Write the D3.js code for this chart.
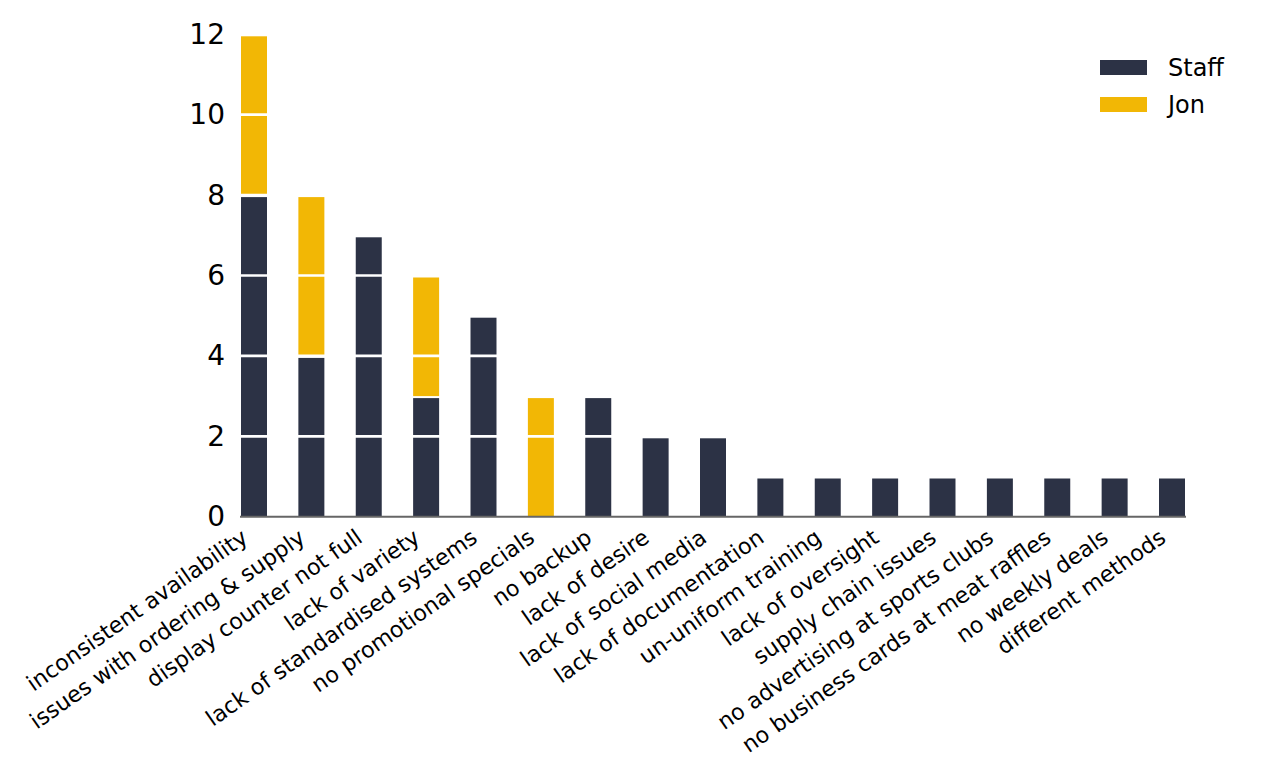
<!DOCTYPE html>
<html lang="en">
  <head>
    <meta charset="utf-8">
    <title>Stacked Bar Chart</title>
    <script type="text/javascript" src="https://d3js.org/d3.v7.min.js"></script>
  </head>
  <style>
    body {
      margin: 0;
      background: white;
    }
    text {
      font-family: "DejaVu Sans", sans-serif;
    }
  </style>
  <body>
    <svg class="chart"></svg>
  </body>

  <script>
    //Data
    const categories = ["inconsistent availability", "issues with ordering & supply", "display counter not full",
                        "lack of variety", "lack of standardised systems", "no promotional specials", "no backup",
                        "lack of desire", "lack of social media", "lack of documentation", "un-uniform training",
                        "lack of oversight", "supply chain issues", "no advertising at sports clubs",
                        "no business cards at meat raffles", "no weekly deals", "different methods"];
    const staffValues = [8, 4, 7, 3, 5, 0, 3, 2, 2, 1, 1, 1, 1, 1, 1, 1, 1];
    const jonValues   = [4, 4, 0, 3, 0, 3, 0, 0, 0, 0, 0, 0, 0, 0, 0, 0, 0];
    const seriesNames = ["Staff", "Jon"];
    const yTicks = [0, 2, 4, 6, 8, 10, 12];

    //Constants
    const width = 1269;
    const height = 780;
    const colors = ["#2c3245", "#f2b705"];
    const topInset = 2;

    const rows = categories.map((c, i) => ({category: c, Staff: staffValues[i], Jon: jonValues[i]}));
    const stacked = d3.stack().keys(seriesNames)(rows);

    const svg = d3.select(".chart")
      .attr("width", width)
      .attr("height", height);

    const x = d3.scaleBand()
      .domain(categories)
      .range([241, 1185])
      .paddingInner(0.547)
      .paddingOuter(0);

    const y = d3.scaleLinear()
      .domain([0, 12])
      .range([516.7, 34.3]);

    //y axis labels only
    const yAxis = d3.axisLeft(y)
      .tickValues(yTicks)
      .tickSize(0)
      .tickPadding(0);
    const yg = svg.append("g")
      .attr("transform", "translate(225, 0)")
      .call(yAxis);
    yg.select(".domain").remove();
    yg.selectAll("text")
      .attr("font-size", "28px")
      .attr("font-family", "DejaVu Sans")
      .attr("fill", "#000");

    //bars
    svg.append("g")
      .selectAll("g")
      .data(stacked)
      .join("g")
        .attr("fill", (d, i) => colors[i])
      .selectAll("rect")
      .data(d => d.filter(s => s[1] > s[0]))
      .join("rect")
        .attr("x", d => x(d.data.category))
        .attr("width", x.bandwidth())
        .attr("y", d => y(d[1]) + topInset)
        .attr("height", d => y(d[0]) - y(d[1]) - topInset);

    //white grid lines across the bars
    svg.append("g")
      .selectAll("line")
      .data(yTicks.filter(t => t > 0))
      .join("line")
        .attr("x1", 240)
        .attr("x2", 1186)
        .attr("y1", d => y(d))
        .attr("y2", d => y(d))
        .attr("stroke", "white")
        .attr("stroke-width", 2.7);

    //x axis
    const xAxis = d3.axisBottom(x).tickSize(0).tickPadding(0);
    const xg = svg.append("g")
      .attr("transform", "translate(0," + y(0) + ")")
      .call(xAxis);
    xg.select(".domain").remove();
    xg.selectAll(".tick text")
      .attr("font-size", "22.3px")
      .attr("font-family", "DejaVu Sans")
      .attr("fill", "#000")
      .attr("text-anchor", "end")
      .attr("x", 0)
      .attr("y", 0)
      .attr("dy", "0.72em")
      .attr("transform", "translate(-14, 11) rotate(-35)");

    svg.append("line")
      .attr("x1", 240)
      .attr("x2", 1186)
      .attr("y1", y(0))
      .attr("y2", y(0))
      .attr("stroke", "#666")
      .attr("stroke-width", 2);

    //legend
    const legend = svg.append("g")
      .selectAll("g")
      .data(seriesNames)
      .join("g")
        .attr("transform", (d, i) => "translate(1100," + (60 + i * 37) + ")");
    legend.append("rect")
      .attr("width", 47)
      .attr("height", 15)
      .attr("fill", (d, i) => colors[i]);
    legend.append("text")
      .text(d => d)
      .attr("x", 68)
      .attr("y", 7.5)
      .attr("dy", "0.35em")
      .attr("font-size", "24px")
      .attr("fill", "#000");
  </script>
</html>
